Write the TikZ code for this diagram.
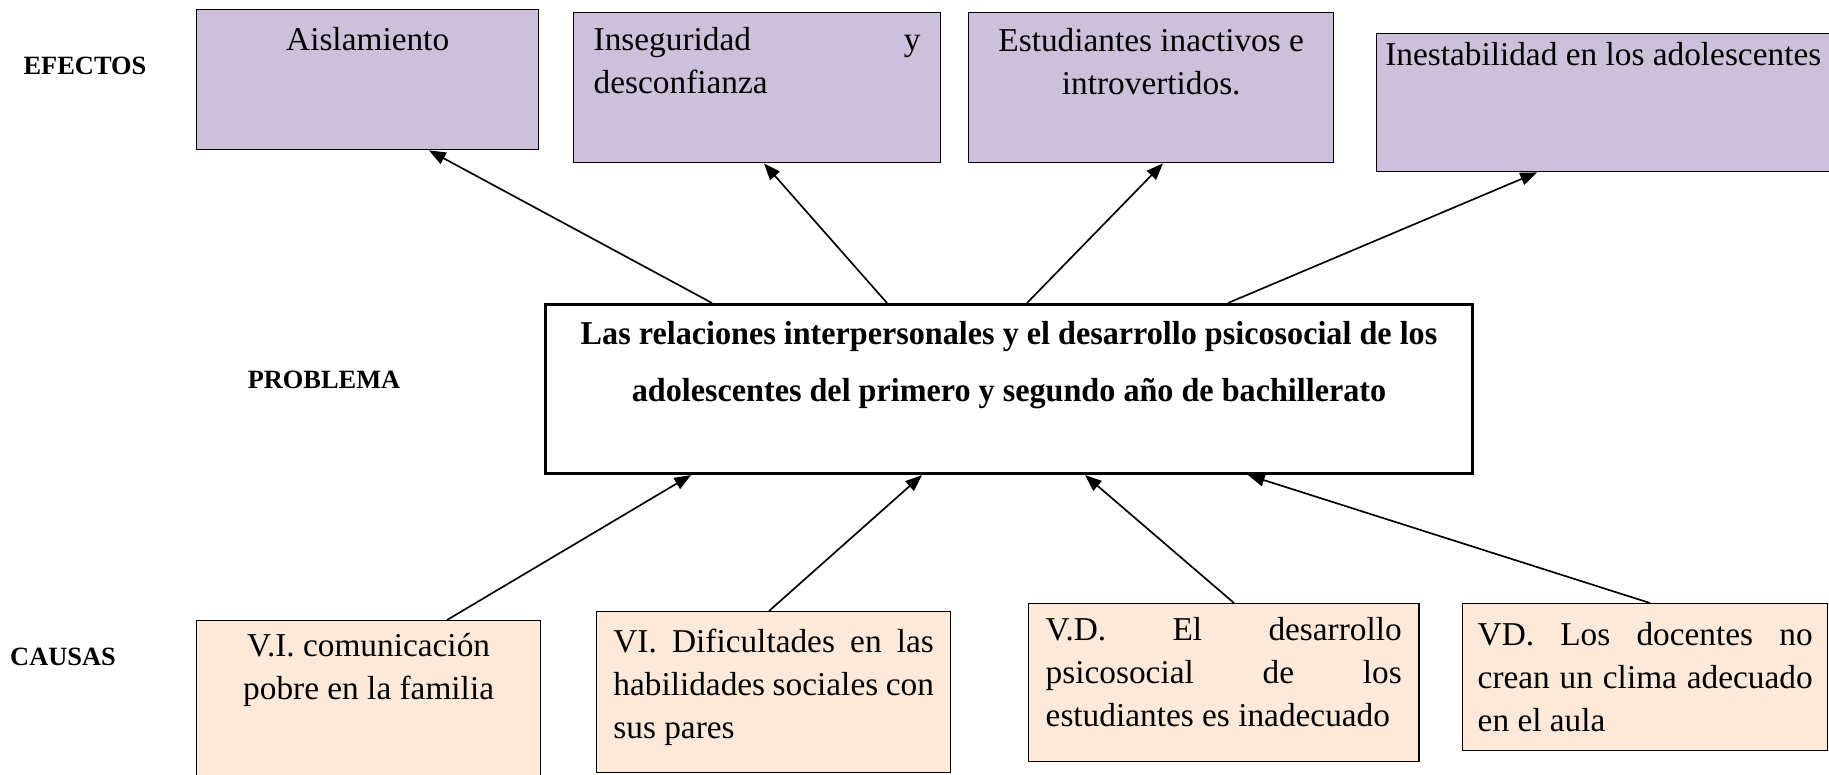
\documentclass[tikz,border=0pt]{standalone}
\usepackage{fontspec}
\setmainfont{Liberation Serif}
\newfontfamily\negrita{Liberation Serif}[FakeStretch=0.965]
\usetikzlibrary{arrows.meta}
\definecolor{lila}{HTML}{CCC0DA}
\definecolor{durazno}{HTML}{FDE9D9}
\newcommand{\espacios}{\spaceskip=\fontdimen2\font\xspaceskip=\fontdimen2\font\relax}
\newcommand{\linea}[1]{{\spaceskip=0pt\xspaceskip=0pt\makebox[\linewidth][s]{#1}}}

\begin{document}
\begin{tikzpicture}[x=0.36pt,y=-0.36pt]
    \tikzstyle{efecto}=[draw, line width=0.5pt, fill=lila, anchor=north west, inner ysep=0pt, font=\fontsize{12}{15.5}\selectfont, execute at begin node=\espacios]
    \tikzstyle{causa}=[efecto, fill=durazno]
    \tikzstyle{problema}=[draw, line width=1.1pt, anchor=north west, inner ysep=0pt, align=center, font=\negrita\fontsize{12}{20.5}\selectfont\bfseries, execute at begin node=\espacios]
    \tikzstyle{titulo}=[font=\fontsize{9.5}{11}\selectfont\bfseries]
    \tikzstyle{flecha}=[-{Triangle[length=6pt,width=4.6pt]}, line width=0.6pt]

    \useasboundingbox (0,0) rectangle (1829,774);

    \node[titulo] (efectos) at (85,66) {EFECTOS};
    \node[titulo] (problemaT) at (324,380) {PROBLEMA};
    \node[titulo] (causas) at (63,657) {CAUSAS};

    \node[efecto, align=center, inner xsep=4pt, text width=115.1pt, text height=14.76pt, text depth=35.64pt] (e1) at (196,9) {Aislamiento};
    \node[efecto, align=left, inner xsep=7.2pt, text width=117.7pt, text height=13.68pt, text depth=40.32pt] (e2) at (573,12) {\linea{Inseguridad y}\\desconfianza};
    \node[efecto, align=center, inner xsep=4pt, text width=123.4pt, text height=14.04pt, text depth=39.96pt] (e3) at (968,12) {Estudiantes inactivos e\\introvertidos.};
    \node[efecto, align=center, inner xsep=2pt, text width=159.1pt, text height=11.52pt, text depth=38.16pt] (e4) at (1376,33) {Inestabilidad en los adolescentes};

    \node[problema, inner xsep=4pt, text width=325.7pt, text height=14.4pt, text depth=46.44pt] (prob) at (544,303)
        {Las relaciones interpersonales y el desarrollo psicosocial de los\\adolescentes del primero y segundo año de bachillerato};

    \node[causa, align=center, inner xsep=4pt, text width=115.8pt, text height=12.96pt, text depth=48.24pt] (c1) at (196,620) {V.I. comunicación\\pobre en la familia};
    \node[causa, align=left, inner xsep=6pt, text width=115.4pt, text height=14.76pt, text depth=43.2pt] (c2) at (596,611) {\linea{VI. Dificultades en las}\\\linea{habilidades sociales con}\\sus pares};
    \node[causa, align=left, inner xsep=6.12pt, text width=128.2pt, text height=13.32pt, text depth=43.56pt] (c3) at (1028,603) {\linea{V.D. El desarrollo}\\\linea{psicosocial de los}\\estudiantes es inadecuado};
    \node[causa, align=left, inner xsep=5.4pt, text width=120.6pt, text height=15.12pt, text depth=37.8pt] (c4) at (1462,603) {\linea{VD. Los docentes no}\\\linea{crean un clima adecuado}\\en el aula};

    \draw[flecha] (712,0 |- prob.north) -- (429,0 |- e1.south);
    \draw[flecha] (887,0 |- prob.north) -- (764,0 |- e2.south);
    \draw[flecha] (1027,0 |- prob.north) -- (1163,0 |- e3.south);
    \draw[flecha] (1228,0 |- prob.north) -- (1537,0 |- e4.south);

    \draw[flecha] (447,0 |- c1.north) -- (691,0 |- prob.south);
    \draw[flecha] (769,0 |- c2.north) -- (922,0 |- prob.south);
    \draw[flecha] (1234,0 |- c3.north) -- (1085,0 |- prob.south);
    \draw[flecha] (1650,0 |- c4.north) -- (1248,0 |- prob.south);
\end{tikzpicture}
\end{document}
